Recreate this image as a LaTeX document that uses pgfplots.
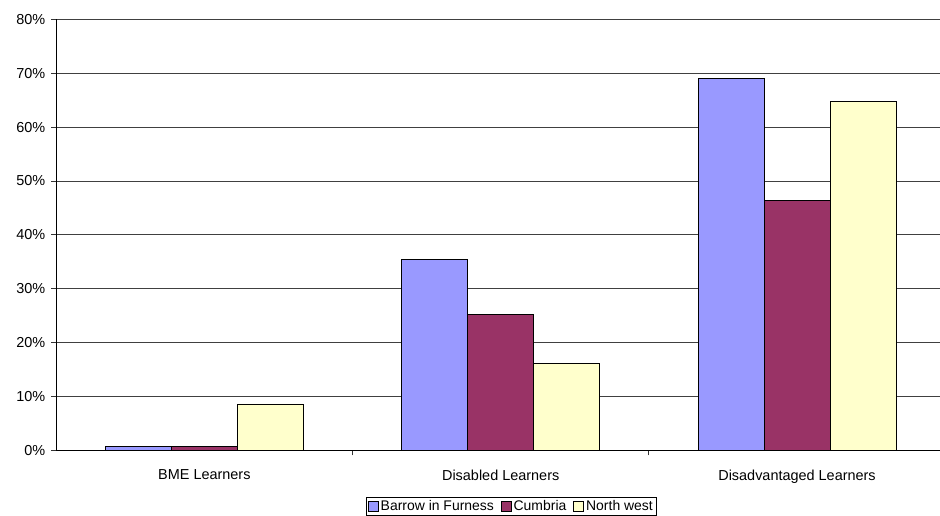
\documentclass[border=0pt]{standalone}
\usepackage{pgfplots}
\pgfplotsset{compat=1.18}
\usepackage{fontspec}
\setmainfont{Liberation Sans}
\definecolor{cBarrow}{HTML}{9999FF}
\definecolor{cCumbria}{HTML}{993366}
\definecolor{cNW}{HTML}{FFFFCC}
\begin{document}
\begin{tikzpicture}[x=1bp,y=1bp]
\useasboundingbox (0,0) rectangle (940,-516);
\begin{axis}[
  at={(56.2bp,-450.3bp)}, anchor=south west,
  scale only axis, width=889bp, height=431bp,
  xmin=-0.5, xmax=2.5, ymin=0, ymax=80,
  ybar=0pt, bar width=66bp,
  axis x line*=bottom, axis y line*=left,
  axis line style={black, line width=0.9bp, -},
  xtick={0.5,1.5},
  xticklabels={},
  extra x ticks={0,1,2},
  extra x tick labels={BME Learners, Disabled Learners, Disadvantaged Learners},
  extra x tick style={major tick length=0pt, grid=none},
  ytick={0,10,...,80},
  yticklabels={0\%,10\%,20\%,30\%,40\%,50\%,60\%,70\%,80\%},
  tick style={black!80, line width=0.8bp},
  major tick length=5bp,
  ymajorgrids, grid style={black!75, line width=0.8bp},
  tick label style={font=\fontsize{14.5}{16}\selectfont},
  xticklabel style={yshift=-16bp},
  yticklabel style={xshift=-2.5bp},
  legend style={at={(0.512,-0.108)}, anchor=north, legend columns=3,
    draw=black, line width=0.8bp, font=\fontsize{14}{15}\selectfont,
    inner sep=1.2bp, /tikz/every even column/.append style={column sep=5bp}},
  legend image code/.code={\draw[#1, line width=0.8bp] (0bp,-5bp) rectangle (10bp,5bp);},
  legend cell align=left,
  tick align=outside,
]
\addplot[fill=cBarrow, draw=black, line width=0.9bp] coordinates {(0,0.75) (1,35.5) (2,69.1)};
\addplot[fill=cCumbria, draw=black, line width=0.9bp] coordinates {(0,0.75) (1,25.3) (2,46.3)};
\addplot[fill=cNW, draw=black, line width=0.9bp] coordinates {(0,8.6) (1,16.2) (2,64.8)};
\legend{Barrow in Furness, Cumbria, North west}
\end{axis}
\end{tikzpicture}
\end{document}
